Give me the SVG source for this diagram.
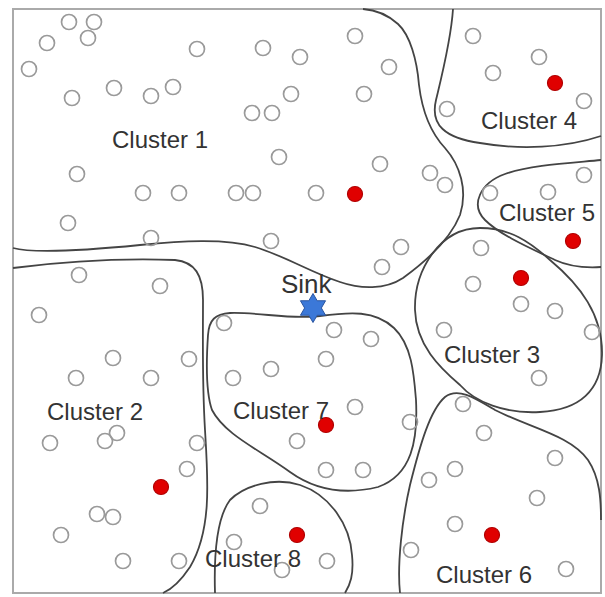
<svg xmlns="http://www.w3.org/2000/svg" width="605" height="597" viewBox="0 0 605 597">
<style>
.bd{fill:none;stroke:#444;stroke-width:1.8}
.n{fill:none;stroke:#9a9a9a;stroke-width:1.7}
.h{fill:#e00000;stroke:#b00000;stroke-width:1.2}
.lb{font-family:"Liberation Sans",Arial,sans-serif;font-size:24px;fill:#333}
</style>
<rect x="13" y="9" width="588" height="584" fill="#fff" stroke="#aaa" stroke-width="2"/>
<g id="connectors"></g>
<g id="cluster1">
<path class="bd" d="M13,248 C35,254 90,250 140,245 C180,241 225,238 255,247 C285,256 310,272 340,282 C360,289 385,290 403,278 C425,262 450,240 460,215 C468,190 460,165 445,148 C430,132 422,110 419,85 C417,60 410,35 398,24 C388,15 377,10 363,9"/>
<g class="n">
<circle cx="69" cy="22" r="7.5"/><circle cx="94" cy="22" r="7.5"/><circle cx="88" cy="38" r="7.5"/><circle cx="47" cy="43" r="7.5"/><circle cx="29" cy="69" r="7.5"/><circle cx="197" cy="49" r="7.5"/><circle cx="72" cy="98" r="7.5"/><circle cx="114" cy="88" r="7.5"/><circle cx="151" cy="96" r="7.5"/><circle cx="173" cy="87" r="7.5"/><circle cx="77" cy="174" r="7.5"/><circle cx="143" cy="193" r="7.5"/><circle cx="179" cy="193" r="7.5"/><circle cx="263" cy="48" r="7.5"/><circle cx="300" cy="57" r="7.5"/><circle cx="355" cy="36" r="7.5"/><circle cx="389" cy="67" r="7.5"/><circle cx="291" cy="94" r="7.5"/><circle cx="364" cy="94" r="7.5"/><circle cx="252" cy="113" r="7.5"/><circle cx="272" cy="113" r="7.5"/><circle cx="279" cy="157" r="7.5"/><circle cx="380" cy="164" r="7.5"/><circle cx="236" cy="193" r="7.5"/><circle cx="253" cy="193" r="7.5"/><circle cx="316" cy="193" r="7.5"/><circle cx="430" cy="173" r="7.5"/><circle cx="445" cy="185" r="7.5"/><circle cx="68" cy="223" r="7.5"/><circle cx="151" cy="238" r="7.5"/><circle cx="271" cy="241" r="7.5"/><circle cx="401" cy="247" r="7.5"/><circle cx="382" cy="267" r="7.5"/>
</g>
<circle class="h" cx="355" cy="194" r="7.5"/>
<text class="lb" x="112" y="148">Cluster 1</text>
</g>
<g id="cluster4">
<path class="bd" d="M453,9 C451,40 442,75 436,100 C430,125 445,138 480,143 C520,150 565,148 601,136"/>
<g class="n"><circle cx="473" cy="36" r="7.5"/><circle cx="539" cy="57" r="7.5"/><circle cx="493" cy="73" r="7.5"/><circle cx="584" cy="101" r="7.5"/><circle cx="447" cy="109" r="7.5"/></g>
<circle class="h" cx="555" cy="83" r="7.5"/>
<text class="lb" x="481" y="129">Cluster 4</text>
</g>
<g id="cluster5">
<path class="bd" d="M601,160 C570,163 530,165 505,174 C480,183 470,205 485,220 C500,235 530,248 555,260 C570,267 585,268 601,267"/>
<g class="n"><circle cx="584" cy="175" r="7.5"/><circle cx="490" cy="193" r="7.5"/><circle cx="548" cy="192" r="7.5"/></g>
<circle class="h" cx="573" cy="241" r="7.5"/>
<text class="lb" x="499" y="221">Cluster 5</text>
</g>
<g id="cluster3">
<path class="bd" d="M480,228 C510,228 530,242 550,260 C580,285 603,315 602,355 C601,390 580,410 540,412 C505,414 475,402 460,385 C440,368 416,345 415,310 C414,270 440,228 480,228 Z"/>
<g class="n"><circle cx="481" cy="248" r="7.5"/><circle cx="473" cy="284" r="7.5"/><circle cx="521" cy="304" r="7.5"/><circle cx="555" cy="311" r="7.5"/><circle cx="444" cy="330" r="7.5"/><circle cx="592" cy="332" r="7.5"/><circle cx="539" cy="378" r="7.5"/></g>
<circle class="h" cx="521" cy="278" r="7.5"/>
<text class="lb" x="444" y="363">Cluster 3</text>
</g>
<g id="cluster2">
<path class="bd" d="M13,268 C60,262 120,258 175,260 C195,262 203,275 203,300 C203,340 202,380 205,430 C208,480 212,530 190,567 C180,582 170,590 163,593"/>
<g class="n"><circle cx="79" cy="275" r="7.5"/><circle cx="160" cy="286" r="7.5"/><circle cx="39" cy="315" r="7.5"/><circle cx="113" cy="358" r="7.5"/><circle cx="189" cy="359" r="7.5"/><circle cx="76" cy="378" r="7.5"/><circle cx="151" cy="378" r="7.5"/><circle cx="50" cy="443" r="7.5"/><circle cx="105" cy="441" r="7.5"/><circle cx="117" cy="433" r="7.5"/><circle cx="197" cy="443" r="7.5"/><circle cx="187" cy="469" r="7.5"/><circle cx="97" cy="514" r="7.5"/><circle cx="113" cy="517" r="7.5"/><circle cx="61" cy="535" r="7.5"/><circle cx="123" cy="561" r="7.5"/><circle cx="179" cy="561" r="7.5"/></g>
<circle class="h" cx="161" cy="487" r="7.5"/>
<text class="lb" x="47" y="420">Cluster 2</text>
</g>
<g id="cluster7">
<path class="bd" d="M230,313 C260,312 290,320 320,316 C350,312 375,310 394,328 C412,345 414,375 416,400 C418,440 412,475 378,487 C345,495 315,490 290,472 C260,450 225,435 212,410 C205,390 207,350 208,335 C209,320 215,314 230,313 Z"/>
<g class="n"><circle cx="224" cy="323" r="7.5"/><circle cx="334" cy="330" r="7.5"/><circle cx="371" cy="339" r="7.5"/><circle cx="326" cy="359" r="7.5"/><circle cx="271" cy="369" r="7.5"/><circle cx="233" cy="378" r="7.5"/><circle cx="355" cy="407" r="7.5"/><circle cx="410" cy="422" r="7.5"/><circle cx="297" cy="441" r="7.5"/><circle cx="326" cy="470" r="7.5"/><circle cx="363" cy="470" r="7.5"/></g>
<circle class="h" cx="326" cy="425" r="7.5"/>
<text class="lb" x="233" y="419">Cluster 7</text>
</g>
<g id="cluster8">
<path class="bd" d="M215,593 C214,560 215,520 230,500 C245,485 275,477 300,485 C330,495 350,525 352,555 C354,575 350,585 345,593"/>
<g class="n"><circle cx="260" cy="506" r="7.5"/><circle cx="234" cy="542" r="7.5"/><circle cx="327" cy="561" r="7.5"/><circle cx="282" cy="570" r="7.5"/></g>
<circle class="h" cx="297" cy="535" r="7.5"/>
<text class="lb" x="205" y="567">Cluster 8</text>
</g>
<g id="cluster6">
<path class="bd" d="M400,593 C397,565 402,520 410,485 C420,445 430,410 445,397 C458,387 475,398 495,410 C530,428 570,435 588,460 C600,478 601,500 601,520"/>
<g class="n"><circle cx="463" cy="404" r="7.5"/><circle cx="484" cy="433" r="7.5"/><circle cx="555" cy="458" r="7.5"/><circle cx="455" cy="469" r="7.5"/><circle cx="429" cy="480" r="7.5"/><circle cx="537" cy="498" r="7.5"/><circle cx="455" cy="524" r="7.5"/><circle cx="411" cy="550" r="7.5"/><circle cx="566" cy="569" r="7.5"/></g>
<circle class="h" cx="492" cy="535" r="7.5"/>
<text class="lb" x="436" y="583">Cluster 6</text>
</g>
<g id="sink">
<polygon points="313,293.5 317.19,300.75 325.56,300.75 321.37,308 325.56,315.25 317.19,315.25 313,322.5 308.81,315.25 300.44,315.25 304.63,308 300.44,300.75 308.81,300.75" fill="#3b78d8" stroke="#2a55a0" stroke-width="1"/>
<text class="lb" x="281" y="293" style="font-size:26px">Sink</text>
</g>
</svg>
